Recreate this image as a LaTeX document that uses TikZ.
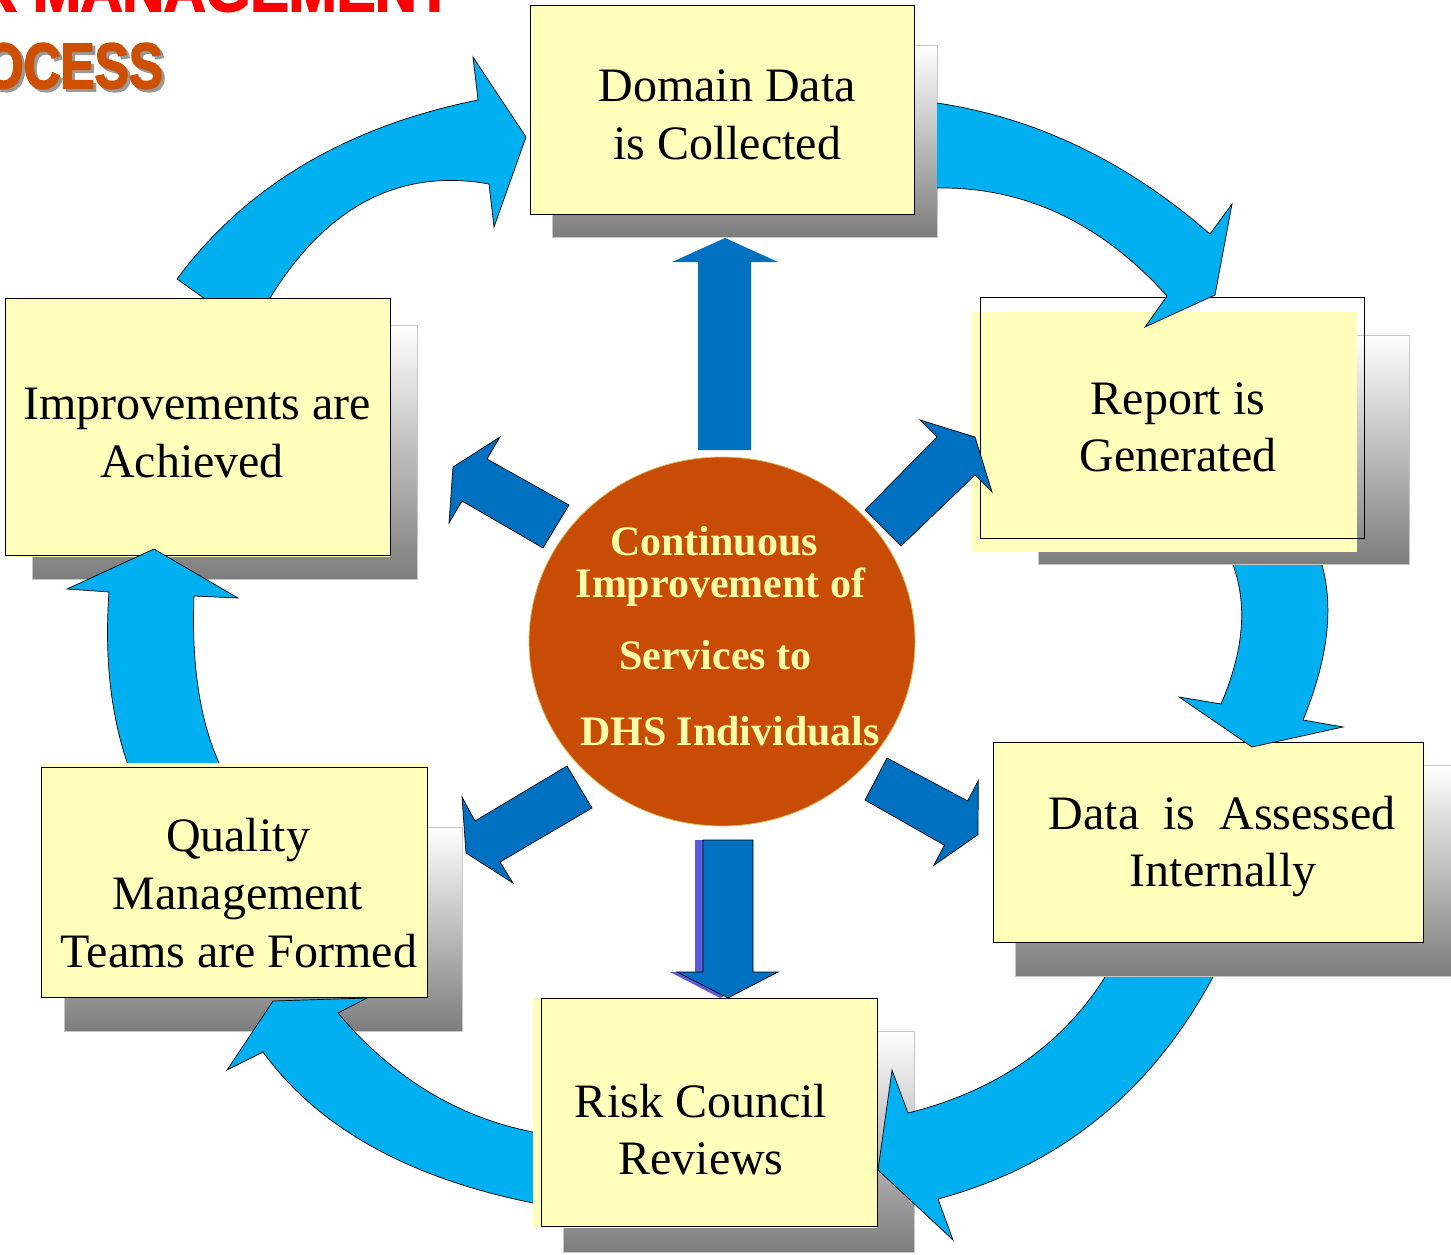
\documentclass[tikz,border=0pt]{standalone}
\usepackage{fontspec}
\setmainfont{Liberation Serif}
\newfontfamily\titlefont{Liberation Sans}[BoldFeatures={FakeBold=3}]
\usetikzlibrary{shapes.geometric}
\definecolor{boxyellow}{RGB}{255,255,187}
\definecolor{shadowgray}{RGB}{125,125,125}
\definecolor{cyanarrow}{RGB}{0,176,240}
\definecolor{bluearrow}{RGB}{0,112,192}
\definecolor{bluearrowshadow}{RGB}{90,90,220}
\definecolor{hubfill}{RGB}{200,75,6}
\definecolor{hubedge}{RGB}{215,190,90}
\definecolor{hubtextcol}{RGB}{255,255,170}
\definecolor{titlered}{RGB}{255,0,0}
\definecolor{titleorange}{RGB}{204,80,0}
\begin{document}
\begin{tikzpicture}[x=1pt,y=-1pt,
  box/.style={rectangle, draw=black, line width=0.8pt, fill=boxyellow, inner sep=0pt, outer sep=0pt},
  outlinebox/.style={rectangle, draw=black, line width=0.8pt, inner sep=0pt, outer sep=0pt},
  shadowbox/.style={top color=white, bottom color=shadowgray, draw=black!22, line width=0.8pt},
  bigarrow/.style={fill=cyanarrow, draw=black, line width=0.7pt, line join=miter},
  bigfill/.style={fill=cyanarrow},
  bigline/.style={draw=black, line width=0.7pt, line join=miter},
  straightarrow/.style={fill=bluearrow, draw=black, line width=0.7pt, line join=miter},
  boxtext/.style={font=\fontsize{48}{58}\selectfont, anchor=base, inner sep=0pt, outer sep=0pt},
  hubtext/.style={font=\fontsize{42}{50}\selectfont\bfseries, text=hubtextcol, anchor=base, inner sep=0pt, outer sep=0pt},
  titletext/.style={font=\fontsize{64}{70}\selectfont\titlefont\bfseries, anchor=base east, inner sep=0pt, outer sep=0pt}]
\path[use as bounding box] (0,0) rectangle (1451,1255);
\clip (0,0) rectangle (1451,1255);

% title (cropped at the page edge)
\node[titletext, text=titlered] (title1) at (452,11) {\scalebox{0.9}[1]{R MANAGEMENT}};
\node[titletext, text=black!40] (title2s) at (166,91) {\scalebox{0.8}[1]{OCESS}};
\node[titletext, text=titleorange] (title2) at (163,88) {\scalebox{0.8}[1]{OCESS}};

% Domain box
\shade[shadowbox] (552,45) rectangle (937,237);
\node[box, minimum width=384pt, minimum height=209pt] (domain) at (722,109.5) {};

% arc: Improvements -> Domain
\path[bigarrow] (177,279) .. controls (245.7,186.3) and (346,126.7) .. (478,100)
  -- (473,57) -- (526,137) -- (494,227) -- (489,184)
  .. controls (399.7,168) and (326.7,206) .. (270,298) -- (262,312) -- (222,311) -- cycle;

% Improvements box
\shade[shadowbox] (32,325) rectangle (417,579);
\fill[boxyellow] (5,300) rectangle (390,557);
\node[box, minimum width=385pt, minimum height=257pt] (impr) at (197.5,426.5) {};

% arc: Quality -> Improvements
\path[bigarrow] (128,765) -- (128,780) -- (222,780) -- (220,765)
  .. controls (200,721.7) and (191.3,665.3) .. (194,596)
  -- (238,598) -- (154,549) -- (67,589) -- (109,592)
  .. controls (104.3,657.3) and (110.7,715) .. (128,765) -- cycle;

% Quality box
\shade[shadowbox] (64,827) rectangle (462,1031);
\fill[boxyellow] (41,763) rectangle (427,997);
\node[box, minimum width=386pt, minimum height=230pt] (quality) at (234,882) {};

% arc: Risk -> Quality
\path[bigarrow] (550,1132) -- (533,1132)
  .. controls (457.7,1117.3) and (392.7,1077.7) .. (338,1013)
  -- (367,998) -- (273,1001) -- (227,1070) -- (263,1052)
  .. controls (317.7,1127.3) and (407.7,1177.7) .. (533,1203) -- (550,1203) -- cycle;

% Risk box
\shade[shadowbox] (563,1031) rectangle (914,1252);
\fill[boxyellow] (533,998) rectangle (877,1228);
\node[box, minimum width=336pt, minimum height=228pt] (risk) at (709,1112) {};

% arc: Data -> Risk
\path[bigarrow] (1213,977) .. controls (1151,1092.3) and (1059.3,1166.3) .. (938,1199)
  -- (953,1240) -- (878,1170) -- (892,1070) -- (908,1113)
  .. controls (996,1091) and (1061.7,1045.7) .. (1105,977) -- (1110,960) -- (1220,960) -- cycle;

% Data box
\shade[shadowbox] (1015,765) rectangle (1460,976);
\node[box, minimum width=430pt, minimum height=200pt] (data) at (1208,842) {};

% arc: Report -> Data
\path[bigarrow] (1322,565) .. controls (1334,608.3) and (1327.7,660) .. (1303,720)
  -- (1343,727) -- (1252,747) -- (1179,697) -- (1221,704)
  .. controls (1243.7,651.3) and (1247.7,605) .. (1233,565) -- (1233,550) -- (1322,550) -- cycle;

% Report box
\shade[shadowbox] (1038,335) rectangle (1409,564);
\fill[boxyellow] (972,312) rectangle (1357,552);
\node[outlinebox, minimum width=384pt, minimum height=241pt] (report) at (1172,417.5) {};

% arc: Domain -> Report
\fill[bigfill] (937,103) .. controls (1035.7,117.7) and (1126.7,161.3) .. (1210,234)
  -- (1232,204) -- (1215,295) -- (1145,327) -- (1167,296)
  .. controls (1101,222.7) and (1024.3,186.7) .. (937,188) -- cycle;
\draw[bigline] (937,103) .. controls (1035.7,117.7) and (1126.7,161.3) .. (1210,234)
  -- (1232,204) -- (1215,295) -- (1145,327) -- (1167,296)
  .. controls (1101,222.7) and (1024.3,186.7) .. (937,188);

% box texts
\node[boxtext] (dom1) at (727,101) {Domain Data};
\node[boxtext] (dom2) at (727,159) {is Collected};
\node[boxtext] (rep1) at (1178,414) {Report is};
\node[boxtext] (rep2) at (1178,471) {Generated};
\node[boxtext] (imp1) at (197,419) {Improvements are};
\node[boxtext] (imp2) at (192,477) {Achieved};
\node[boxtext] (dat1) at (1222,829) {Data\ \ is\ \ Assessed};
\node[boxtext] (dat2) at (1223,886) {Internally};
\node[boxtext] (qua1) at (238,851) {Quality};
\node[boxtext] (qua2) at (238,909) {Management};
\node[boxtext] (qua3) at (239,967) {Teams are Formed};
\node[boxtext] (ris1) at (701,1117) {Risk Council};
\node[boxtext] (ris2) at (701,1174) {Reviews};

% hub
\node[ellipse, fill=hubfill, draw=hubedge, line width=0.8pt, minimum width=386pt, minimum height=369pt, inner sep=0pt] (hub) at (722,641.5) {};
\node[hubtext] (hub1) at (714,555) {Continuous};
\node[hubtext] (hub2) at (720.5,597) {Improvement of};
\node[hubtext] (hub3) at (715.5,669) {Services to};
\node[hubtext] (hub4) at (730,745) {DHS Individuals};

% straight arrows
\fill[bluearrow] (698,450) -- (698,262) -- (672,262) -- (725,238) -- (778,262) -- (751,262) -- (751,450) -- cycle;
\fill[bluearrowshadow] (695,840) -- (695,972) -- (670,972) -- (720,998) -- (771,972) -- (745,972) -- (745,840) -- cycle;
\path[straightarrow] (703,840) -- (703,972) -- (677,972) -- (728,998) -- (778,972) -- (753,972) -- (753,840) -- cycle;
\path[straightarrow] (865,510) -- (937,437) -- (920,420) -- (975,437) -- (992,492) -- (975,475) -- (901,546) -- cycle;
\path[straightarrow] (569,505) -- (487,459) -- (500,437) -- (453,467) -- (449,523) -- (462,501) -- (543,548) -- cycle;
\path[straightarrow] (567,766) -- (475,821) -- (462,797) -- (466,853) -- (513,883) -- (500,862) -- (592,808) -- cycle;
\path[straightarrow] (887,758) -- (967.6,800.9) -- (978.3,780.5) -- (978,834.6) -- (933.7,865.5) -- (944.4,845.2) -- (865,800) -- cycle;
\end{tikzpicture}
\end{document}
